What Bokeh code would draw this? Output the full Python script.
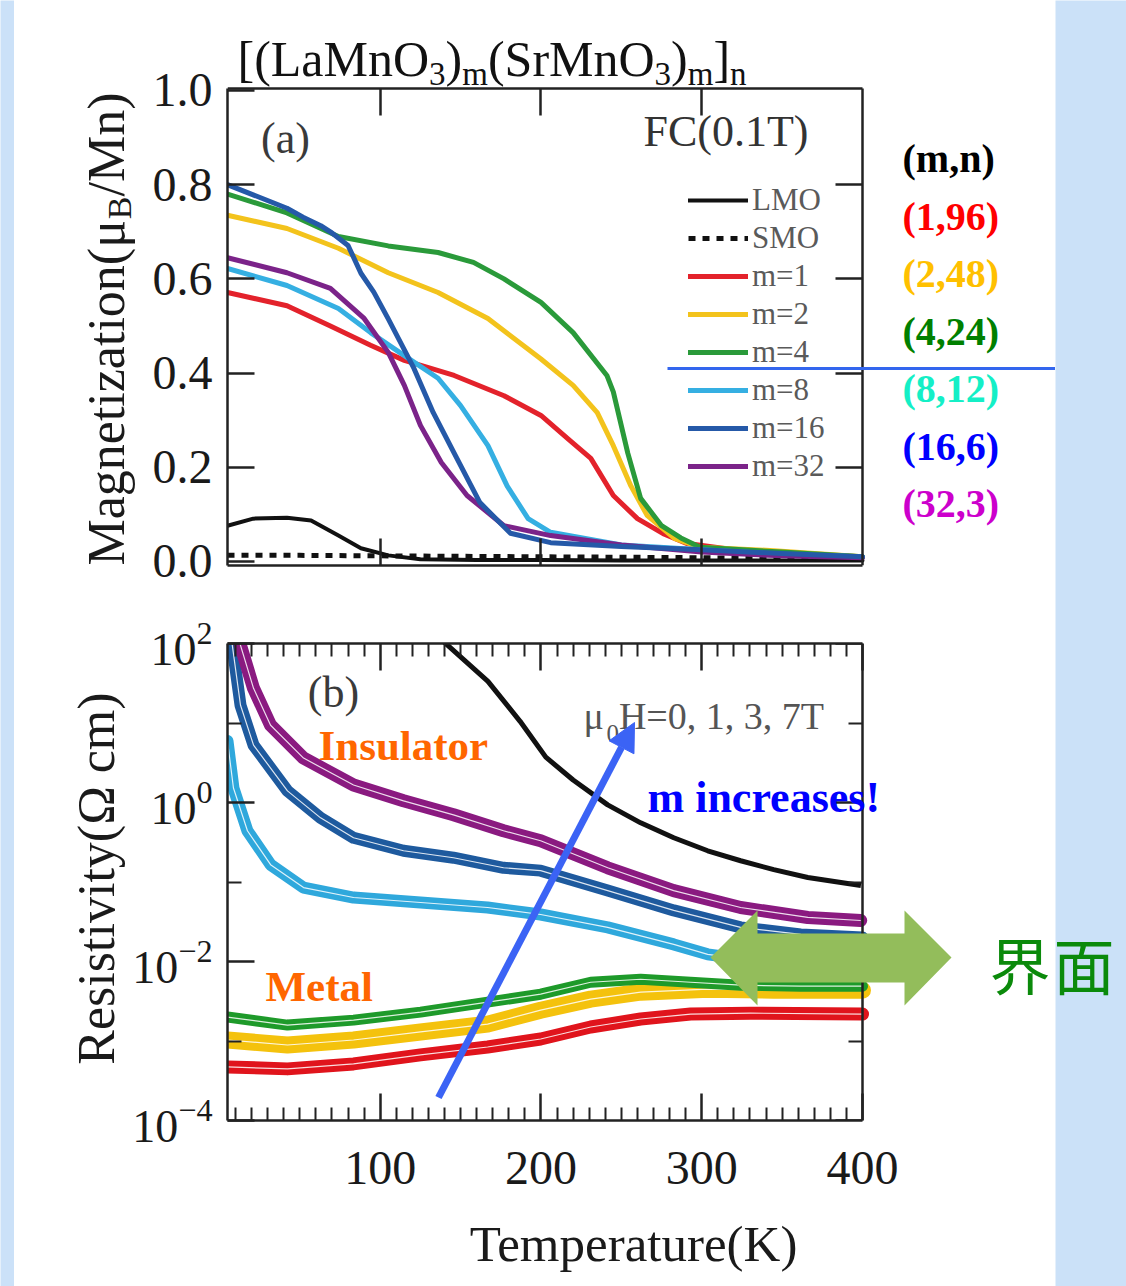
import math
from bokeh.plotting import figure
from bokeh.layouts import row, column
from bokeh.models import (Range1d, FixedTicker, LinearAxis, LogAxis, PrintfTickFormatter,
                          LogTickFormatter, Label, Legend, LegendItem, Arrow, NormalHead,
                          PolyAnnotation)
from bokeh.embed import file_html
from bokeh.resources import INLINE

# ------------------------------------------------------------------ data
# (a) magnetization (mu_B/Mn) vs temperature (K), FC 0.1 T
a_T_lmo = [5, 21, 42, 57, 74, 88, 105, 125, 160, 200, 250, 300, 350, 400]
a_M_lmo = [0.076, 0.091, 0.093, 0.087, 0.055, 0.028, 0.013, 0.005, 0.003, 0.003, 0.002, 0.002, 0.002, 0.002]
a_T_smo = [5, 50, 100, 150, 200, 250, 300, 350, 400]
a_M_smo = [0.013, 0.013, 0.012, 0.011, 0.010, 0.009, 0.008, 0.006, 0.005]
a_T_m1 = [5, 42, 69, 94, 115, 146, 177, 200, 217, 231, 245, 260, 276, 291, 320, 360, 400]
a_M_m1 = [0.571, 0.543, 0.500, 0.459, 0.427, 0.395, 0.352, 0.310, 0.260, 0.219, 0.140, 0.091, 0.059, 0.038, 0.025, 0.015, 0.010]
a_T_m2 = [5, 42, 74, 105, 136, 167, 200, 220, 235, 245, 256, 266, 283, 299, 345, 400]
a_M_m2 = [0.735, 0.707, 0.665, 0.613, 0.571, 0.516, 0.430, 0.374, 0.316, 0.246, 0.160, 0.098, 0.049, 0.030, 0.023, 0.010]
a_T_m4 = [5, 42, 74, 105, 136, 158, 177, 200, 220, 241, 245, 254, 262, 275, 287, 299, 350, 400]
a_M_m4 = [0.780, 0.740, 0.690, 0.670, 0.656, 0.635, 0.600, 0.550, 0.486, 0.395, 0.360, 0.230, 0.134, 0.076, 0.050, 0.030, 0.020, 0.010]
a_T_m8 = [5, 42, 74, 94, 115, 136, 150, 167, 179, 192, 206, 250, 300, 350, 400]
a_M_m8 = [0.622, 0.586, 0.537, 0.486, 0.437, 0.389, 0.331, 0.246, 0.160, 0.091, 0.062, 0.035, 0.025, 0.015, 0.010]
a_T_m16 = [5, 42, 52, 63, 69, 80, 88, 96, 105, 121, 133, 146, 162, 181, 206, 250, 300, 350, 400]
a_M_m16 = [0.800, 0.750, 0.731, 0.713, 0.700, 0.671, 0.612, 0.572, 0.515, 0.410, 0.316, 0.230, 0.125, 0.060, 0.040, 0.032, 0.025, 0.017, 0.010]
a_T_m32 = [5, 42, 69, 90, 105, 115, 125, 138, 154, 177, 206, 250, 300, 350, 400]
a_M_m32 = [0.645, 0.613, 0.580, 0.516, 0.444, 0.374, 0.289, 0.210, 0.140, 0.076, 0.055, 0.035, 0.020, 0.012, 0.008]

# (b) resistivity (Ohm cm) vs temperature (K)
b_T_lmo = [138, 167, 187, 203, 220, 241.5, 262, 282.6, 303.7, 324.2, 344.8, 366, 399]
b_R_lmo = [112, 33.4, 10.5, 3.72, 1.92, 0.933, 0.555, 0.360, 0.247, 0.185, 0.143, 0.114, 0.0902]
b_T_m32 = [12, 21.2, 31.8, 52.3, 83.4, 114.5, 145.6, 176.7, 199.8, 241.5, 282.5, 324.2, 366, 398.9]
b_R_m32 = [112, 27.3, 9.38, 3.62, 1.66, 1.05, 0.700, 0.441, 0.330, 0.151, 0.0780, 0.0478, 0.0358, 0.0328]
b_T_m16 = [7.5, 13.1, 21.2, 42.3, 62.9, 83.4, 114.5, 145.6, 176.7, 199.8, 241.5, 282.6, 324.2, 361.6, 400]
b_R_m16 = [112, 16.7, 5.27, 1.40, 0.641, 0.360, 0.247, 0.202, 0.151, 0.139, 0.0780, 0.0439, 0.0269, 0.0219, 0.0200]
b_T_m8 = [5, 8.7, 17.4, 31.8, 52.3, 83.4, 125.1, 166.8, 199.8, 241.5, 282.6, 303.7, 336.7, 400]
b_R_m8 = [5.92, 1.52, 0.441, 0.165, 0.0851, 0.0638, 0.0552, 0.0478, 0.0390, 0.0269, 0.0164, 0.0123, 0.0100, 0.0087]
b_T_m4 = [5, 42.3, 83.4, 125.1, 166.8, 199.8, 230.9, 262, 293.1, 324.2, 361.6, 400]
b_R_m4 = [2.00e-3, 1.585e-3, 1.83e-3, 2.31e-3, 3.08e-3, 3.88e-3, 5.48e-3, 5.98e-3, 5.48e-3, 5.04e-3, 4.89e-3, 4.89e-3]
b_T_m2 = [5, 42.3, 83.4, 125.1, 166.8, 199.8, 230.9, 262, 303.7, 344.8, 400]
b_R_m2 = [1.03e-3, 8.91e-4, 1.03e-3, 1.30e-3, 1.63e-3, 2.44e-3, 3.36e-3, 4.11e-3, 4.49e-3, 4.36e-3, 4.36e-3]
b_T_m1 = [5, 42.3, 83.4, 125.1, 166.8, 199.8, 230.9, 262, 293.1, 330.4, 400]
b_R_m1 = [4.72e-4, 4.46e-4, 5.15e-4, 6.68e-4, 8.41e-4, 1.06e-3, 1.50e-3, 1.89e-3, 2.18e-3, 2.24e-3, 2.18e-3]

# ticks
a_xticks = [100, 200, 300]
a_yticks = [0.0, 0.2, 0.4, 0.6, 0.8, 1.0]
a_yticks_right = [0.2, 0.4, 0.6, 0.8]
b_xticks = [100, 200, 300, 400]
b_xminor = [t for t in range(10, 400, 10) if t % 100]
b_yticks = [1e-4, 1e-2, 1, 1e2]
b_yminor = [1e-3, 1e-1, 1e1]

# right-hand list of (m, n)
mn_labels = ["(m,n)", "(1,96)", "(2,48)", "(4,24)", "(8,12)", "(16,6)", "(32,3)"]
mn_colors = ["#000000", "#ff0000", "#ffc000", "#008000", "#14efc6", "#0000ff", "#cc00cc"]

# ------------------------------------------------------------------ geometry / style
SERIF = "Liberation Serif"
CJK = "Noto Sans CJK SC"
BLUE_BG = "#cbe1f8"
PAGE_W, PAGE_H = 1126, 1286
LEFT_STRIP, TOP_STRIP = 14, 5
BX0, BX1 = 227, 862            # data box left/right (page px)
A_Y0, A_Y1 = 88, 565           # panel (a) box top/bottom
B_Y0, B_Y1 = 643, 1120         # panel (b) box top/bottom
SPLIT = 600                    # page y where row (a) ends
PANEL_R = 1055                 # right edge of white panel
AL_X, BL_X = 140, 127          # right edges of left label columns
BB_Y = 1211                    # top of x-label strip in row (b)
T_LO, T_HI = 5, 400
M_LO, M_HI = -0.0085, 1.0042
R_LO, R_HI = 1e-4, 1e2
MID = 0.34                     # em-middle offset above baseline

px_per_T = (BX1 - BX0) / (T_HI - T_LO)
T_RIGHT = T_HI + (PANEL_R - BX1) / px_per_T
px_per_M = (A_Y1 - A_Y0) / (M_HI - M_LO)
M_TOPFRAME = M_HI + (A_Y0 - TOP_STRIP) / px_per_M

C_RED, C_YEL, C_GRN = "#e3222b", "#f3c31c", "#2a9a3a"
C_LBL, C_DBL, C_PUR = "#35afe2", "#2559a8", "#7b2389"

TW = {'[': 333, '(': 333, ')': 333, ']': 333, 'L': 611, 'a': 444, 'M': 889, 'n': 500,
      'O': 722, 'S': 556, 'r': 333, 'm': 778, '3': 500, 'g': 500, 'e': 444, 't': 278,
      'i': 278, 'z': 444, 'o': 500, 'μ': 550, 'B': 667, '/': 278, '0': 500, 'H': 722,
      '=': 564, ',': 250, ' ': 250, '1': 500, '7': 500, 'T': 611}


def tw(s, size):
    return sum(TW[c] for c in s) / 1000.0 * size


def style_axis(ax, labels, size=48, standoff=15, minor=0, tick_in=27, tick_out=0, bounds=None):
    ax.axis_line_color = "#222"
    ax.axis_line_width = 2.5
    ax.major_tick_line_color = "#222"
    ax.major_tick_line_width = 2.5
    ax.major_tick_in = tick_in
    ax.major_tick_out = tick_out
    ax.minor_tick_in = minor if tick_in else 0
    ax.minor_tick_out = minor if tick_out else 0
    ax.minor_tick_line_color = "#222" if minor else None
    ax.minor_tick_line_width = 2
    ax.major_label_text_font = SERIF
    if labels:
        ax.major_label_text_font_size = f"{size}px"
        ax.major_label_standoff = standoff
        ax.major_label_text_color = "#1a1a1a"
    else:
        ax.major_label_text_font_size = "0px"
        ax.major_label_standoff = 0
        ax.major_label_text_color = None
    if bounds is not None:
        ax.bounds = bounds


def blank(width, height, bg="white"):
    p = figure(width=width, height=height, x_range=Range1d(0, 1), y_range=Range1d(0, 1),
               output_backend="svg", toolbar_location=None, title=None,
               x_axis_location=None, y_axis_location=None, min_border=0,
               background_fill_color=bg, border_fill_color=bg, outline_line_color=None)
    p.grid.visible = False
    return p


class Pane:
    """A figure plus the page position of its frame's bottom-left corner."""
    def __init__(self, fig, left, bottom):
        self.fig, self.left, self.bottom = fig, left, bottom

    def xy(self, px, py):
        return px - self.left, self.bottom - py

    def label(self, px, py, text, size, color="#222", bold=False, align="left",
              angle=0.0, font=SERIF):
        # (px, py) is the middle of the text's em box, in page pixels
        sx, sy = self.xy(px, py)
        self.fig.add_layout(Label(x=sx, y=sy, x_units="screen", y_units="screen", text=text,
                                  text_font=font, text_font_size=f"{size}px", text_color=color,
                                  text_font_style="bold" if bold else "normal",
                                  text_align=align, text_baseline="middle", angle=angle))

    def poly(self, pts, color):
        self.fig.add_layout(PolyAnnotation(xs=[self.xy(a, b)[0] for a, b in pts],
                                           ys=[self.xy(a, b)[1] for a, b in pts],
                                           xs_units="screen", ys_units="screen",
                                           fill_color=color, fill_alpha=1.0, line_color=None))


# ------------------------------------------------------------------ row (a): left label column
# (its frame is aligned by the row with the frame of plot (a), so it ends at the box bottom)
pal = Pane(blank(AL_X - LEFT_STRIP, SPLIT - TOP_STRIP), LEFT_STRIP, A_Y1)
ypos = float(A_Y1)
for txt, sub in [("Magnetization(μ", False), ("B", True), ("/Mn)", False)]:
    size = 34 if sub else 52
    base_x = 131 if sub else 124
    pal.label(base_x - MID * size, ypos, txt, size, color="#1a1a1a", angle=math.pi / 2)
    ypos -= tw(txt, size)

# ------------------------------------------------------------------ row (a): plot
fa = figure(width=PANEL_R - AL_X, height=SPLIT - TOP_STRIP,
            min_border_left=BX0 - AL_X, min_border_right=0, min_border_top=0,
            min_border_bottom=SPLIT - A_Y1,
            x_range=Range1d(T_LO, T_RIGHT), y_range=Range1d(M_LO, M_TOPFRAME),
            output_backend="svg", toolbar_location=None, title=None,
            background_fill_color="white", border_fill_color="white", outline_line_color=None)
fa.grid.visible = False
fa.xaxis[0].ticker = FixedTicker(ticks=a_xticks)
style_axis(fa.xaxis[0], labels=False, bounds=(T_LO, T_HI))
fa.yaxis[0].ticker = FixedTicker(ticks=a_yticks)
fa.yaxis[0].formatter = PrintfTickFormatter(format="%.1f")
style_axis(fa.yaxis[0], labels=True, size=48, standoff=15, bounds=(M_LO, M_HI))
a_top = LinearAxis(ticker=FixedTicker(ticks=a_xticks), fixed_location=M_HI)
style_axis(a_top, labels=False, tick_in=0, tick_out=27, bounds=(T_LO, T_HI))
fa.add_layout(a_top, "below")
a_right = LinearAxis(ticker=FixedTicker(ticks=a_yticks_right), fixed_location=T_HI)
style_axis(a_right, labels=False, bounds=(M_LO, M_HI))
fa.add_layout(a_right, "right")


def la(T, M, color, width=5, dash="solid", cap="round"):
    return fa.line(T, M, line_color=color, line_width=width, line_dash=dash,
                   line_join="round", line_cap=cap)


r_lmo = la(a_T_lmo, a_M_lmo, "#111111", 4)
r_smo = la(a_T_smo, a_M_smo, "#111111", 5, dash="7 7", cap="butt")
r_m1 = la(a_T_m1, a_M_m1, C_RED)
r_m2 = la(a_T_m2, a_M_m2, C_YEL)
r_m4 = la(a_T_m4, a_M_m4, C_GRN)
r_m8 = la(a_T_m8, a_M_m8, C_LBL)
r_m32 = la(a_T_m32, a_M_m32, C_PUR)
r_m16 = la(a_T_m16, a_M_m16, C_DBL)

pa = Pane(fa, BX0, A_Y1)
fa.add_layout(Legend(items=[LegendItem(label="LMO", renderers=[r_lmo]),
                            LegendItem(label="SMO", renderers=[r_smo]),
                            LegendItem(label="m=1", renderers=[r_m1]),
                            LegendItem(label="m=2", renderers=[r_m2]),
                            LegendItem(label="m=4", renderers=[r_m4]),
                            LegendItem(label="m=8", renderers=[r_m8]),
                            LegendItem(label="m=16", renderers=[r_m16]),
                            LegendItem(label="m=32", renderers=[r_m32])],
                     location=pa.xy(688, 485), orientation="vertical",
                     border_line_color=None, background_fill_alpha=0.0,
                     padding=0, margin=0, spacing=0, glyph_width=60, glyph_height=38,
                     label_height=38, label_standoff=4, label_text_font=SERIF,
                     label_text_font_size="31px", label_text_color="#5a5a5a"))

title_parts = [("[(LaMnO", False), ("3", True), (")", False), ("m", True),
               ("(SrMnO", False), ("3", True), (")", False), ("m", True),
               ("]", False), ("n", True)]
x = 237.0
for txt, sub in title_parts:
    size = 33 if sub else 50
    base_y = 85 if sub else 75
    pa.label(x, base_y - MID * size, txt, size, color="#111")
    x += tw(txt, size)

pa.label(285, 138, "(a)", 44, color="#3a3a3a", align="center")
pa.label(643, 131, "FC(0.1T)", 44, color="#333")
for i, (txt, col) in enumerate(zip(mn_labels, mn_colors)):
    pa.label(902, 158 + i * 57.5, txt, 40, color=col, bold=True)

s0, s1 = pa.xy(667, 368), pa.xy(PANEL_R, 368)
fa.add_layout(Arrow(x_start=s0[0], y_start=s0[1], x_end=s1[0], y_end=s1[1],
                    start_units="screen", end_units="screen", end=None,
                    line_color="#3366ee", line_width=3))

# ------------------------------------------------------------------ row (b): left label column
pbl = Pane(blank(BL_X - LEFT_STRIP, PAGE_H - SPLIT), LEFT_STRIP, PAGE_H)
pbl.label(114 - MID * 52, 878, "Resistivity(Ω cm)", 52, color="#1a1a1a", align="center",
          angle=math.pi / 2)

# ------------------------------------------------------------------ row (b): plot
fb = figure(width=PANEL_R - BL_X, height=BB_Y - SPLIT,
            min_border_left=BX0 - BL_X, min_border_right=0, min_border_top=B_Y0 - SPLIT,
            min_border_bottom=BB_Y - B_Y1,
            x_range=Range1d(T_LO, T_RIGHT), y_range=Range1d(R_LO, R_HI), y_axis_type="log",
            output_backend="svg", toolbar_location=None, title=None,
            background_fill_color="white", border_fill_color="white", outline_line_color=None)
fb.grid.visible = False
bx_ticker = FixedTicker(ticks=b_xticks, minor_ticks=b_xminor)
by_ticker = FixedTicker(ticks=b_yticks, minor_ticks=b_yminor)
fb.xaxis[0].ticker = bx_ticker
style_axis(fb.xaxis[0], labels=True, size=48, standoff=31, minor=13, bounds=(T_LO, T_HI))
fb.yaxis[0].ticker = by_ticker
fb.yaxis[0].formatter = LogTickFormatter()
style_axis(fb.yaxis[0], labels=True, size=46, standoff=15, minor=14, bounds=(R_LO, R_HI))
b_top = LinearAxis(ticker=bx_ticker)
style_axis(b_top, labels=False, minor=13, bounds=(T_LO, T_HI))
fb.add_layout(b_top, "above")
b_right = LogAxis(ticker=by_ticker, fixed_location=T_HI)
style_axis(b_right, labels=False, minor=14, bounds=(R_LO, R_HI))
fb.add_layout(b_right, "right")


def band(T, R, color, width):
    fb.line(T, R, line_color=color, line_width=width, line_join="round", line_cap="round")
    fb.line(T, R, line_color="white", line_width=1.2, line_alpha=0.85, line_join="round")


band(b_T_m1, b_R_m1, "#e0141c", 13)
band(b_T_m2, b_R_m2, "#f4c20d", 17)
band(b_T_m4, b_R_m4, "#1e9a2a", 11)
band(b_T_m8, b_R_m8, "#2fa8dc", 12)
band(b_T_m16, b_R_m16, "#1e5a9e", 12)
band(b_T_m32, b_R_m32, "#8a1a80", 13)
fb.line(b_T_lmo, b_R_lmo, line_color="#111111", line_width=5, line_join="round")

pb = Pane(fb, BX0, B_Y1)
pb.label(333, 692, "(b)", 44, color="#3a3a3a", align="center")
x = 583.0
for txt, sub in [("μ", False), ("0", True), ("H=0, 1, 3, 7T", False)]:
    size = 25 if sub else 38
    base_y = 741 if sub else 728
    pb.label(x + (2 if sub else 0), base_y - MID * size, txt, size, color="#555555")
    x += tw(txt, size) + (2 if sub else 0)
pb.label(318, 760 - MID * 43, "Insulator", 43, color="#ff6600", bold=True)
pb.label(265, 1001 - MID * 43, "Metal", 43, color="#ff6600", bold=True)
pb.label(647, 812 - MID * 44, "m increases!", 44, color="#0000ff", bold=True)

s0, s1 = pb.xy(438, 1097), pb.xy(634, 722)
fb.add_layout(Arrow(x_start=s0[0], y_start=s0[1], x_end=s1[0], y_end=s1[1],
                    start_units="screen", end_units="screen",
                    end=NormalHead(size=28, fill_color="#3b63f5", line_color="#3b63f5"),
                    line_color="#3b63f5", line_width=7))
pb.poly([(710, 957), (757, 910), (757, 933), (904, 933), (904, 910), (951, 957),
         (904, 1005), (904, 982), (757, 982), (757, 1005)], "#93bd5b")
pb.label(989, 963, "界", 61, color="#0b8a0b", font=CJK)

# x-axis title strip below plot (b)
pbb = Pane(blank(PANEL_R - BL_X, PAGE_H - BB_Y), BL_X, PAGE_H)
pbb.label(533, 1261 - MID * 51, "Temperature(K)", 51, color="#1a1a1a", align="center")

# blue strips round the white panel
left_strip = blank(LEFT_STRIP, PAGE_H, BLUE_BG)
top_strip = blank(PANEL_R - LEFT_STRIP, TOP_STRIP, BLUE_BG)
right = Pane(blank(PAGE_W - PANEL_R, PAGE_H, BLUE_BG), PANEL_R, PAGE_H)
right.label(1053, 963, "面", 61, color="#0b8a0b", font=CJK)

middle = column(top_strip,
                row(pal.fig, fa),
                row(pbl.fig, column(fb, pbb.fig)))
layout = row(left_strip, middle, right.fig)
open("out.html", "w").write(file_html(layout, INLINE))
